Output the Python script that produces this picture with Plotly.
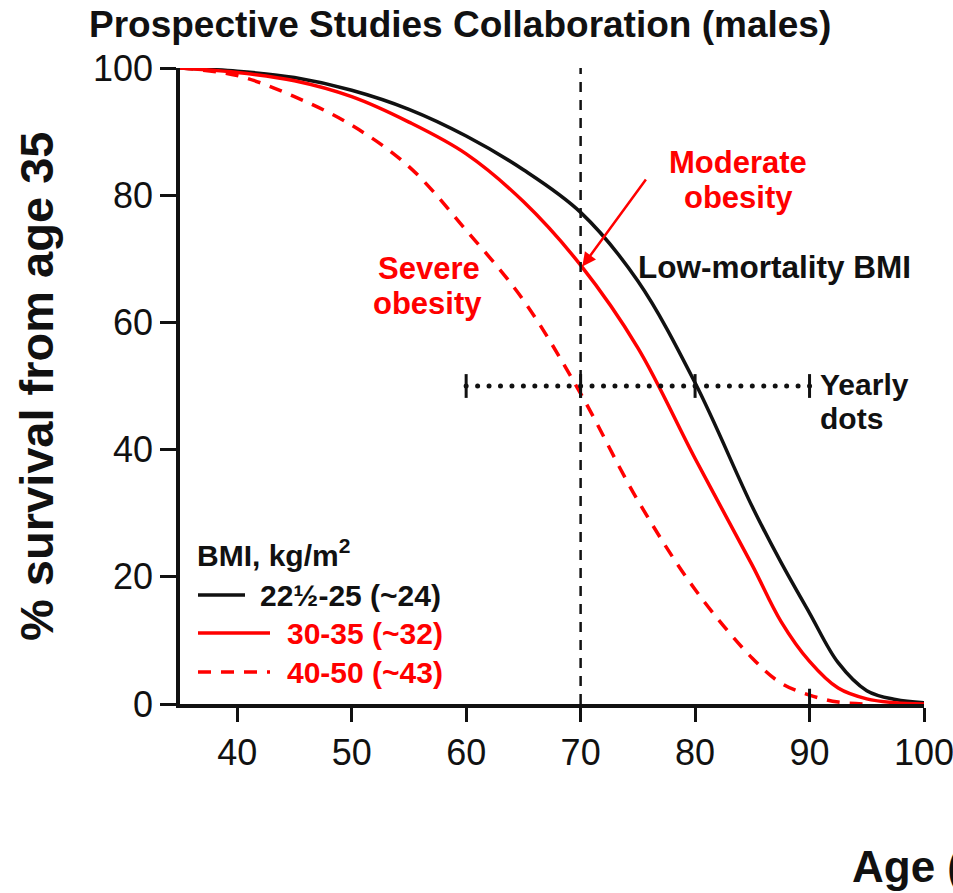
import plotly.graph_objects as go

# Survival from age 35 (%), males, by BMI band
ages_low = [35, 40, 45, 50, 55, 60, 65, 70, 75, 80, 85, 87.5, 90, 92.5, 95, 97.5, 100]
surv_low = [100, 99.5, 98.5, 96.5, 93.5, 89.3, 84, 77.3, 66.5, 50.5, 31, 22.3, 14.3, 6.5, 2.1, 0.7, 0.2]

ages_moderate = [35, 40, 45, 50, 55, 60, 65, 70, 75, 80, 85, 87.5, 90, 92.5, 95, 97.5, 100]
surv_moderate = [100, 99.3, 98, 95.5, 91.5, 86.5, 79, 69, 56, 38.6, 21.8, 13, 6.7, 2.5, 0.8, 0.2, 0]

ages_severe = [35, 40, 45, 50, 55, 60, 65, 70, 75, 80, 85, 87.5, 90, 92.5, 95]
surv_severe = [100, 98.8, 95.5, 91, 84.5, 74.5, 63.5, 48.8, 32, 18, 7.2, 3.3, 1.4, 0.3, 0]

# Yearly dot ruler
dot_ages = list(range(60, 91))
dot_level = 50
ruler_ticks = [60, 70, 80, 90]

x_ticks = [40, 50, 60, 70, 80, 90, 100]
y_ticks = [0, 20, 40, 60, 80, 100]

FONT = "Liberation Sans, Arial, sans-serif"
RED = "#ff0000"
BLACK = "#111111"

W, H = 953, 893
L, R, T, B = 180, 29, 68, 189
PW, PH = W - L - R, H - T - B


def px(xp):
    return (xp - L) / PW


def py(yp):
    return (H - B - yp) / PH


def label(text, x, y, color, size, anchor="center"):
    fig.add_annotation(x=px(x), y=py(y), xref="paper", yref="paper", xanchor=anchor, yanchor="middle",
                       text=f"<b>{text}</b>", showarrow=False,
                       font=dict(size=size, color=color, family=FONT))


fig = go.Figure()

fig.add_trace(go.Scatter(x=ages_low, y=surv_low, mode="lines",
                         line=dict(color=BLACK, width=3.5, shape="spline", smoothing=1),
                         showlegend=False, hoverinfo="skip"))
fig.add_trace(go.Scatter(x=ages_moderate, y=surv_moderate, mode="lines",
                         line=dict(color=RED, width=3.5, shape="spline", smoothing=1),
                         showlegend=False, hoverinfo="skip"))
fig.add_trace(go.Scatter(x=ages_severe, y=surv_severe, mode="lines",
                         line=dict(color=RED, width=3.5, shape="spline", smoothing=1, dash="13px,10px"),
                         showlegend=False, hoverinfo="skip"))

# Vertical reference line at age 70
fig.add_trace(go.Scatter(x=[70, 70], y=[0, 100], mode="lines",
                         line=dict(color=BLACK, width=2.5, dash="10px,8px"),
                         showlegend=False, hoverinfo="skip"))

# Yearly dots with decade ticks
fig.add_trace(go.Scatter(x=dot_ages, y=[dot_level] * len(dot_ages), mode="markers",
                         marker=dict(color=BLACK, size=5), showlegend=False, hoverinfo="skip"))
fig.add_trace(go.Scatter(x=ruler_ticks, y=[dot_level] * len(ruler_ticks), mode="markers",
                         marker=dict(symbol="line-ns", size=17, line=dict(color=BLACK, width=3)),
                         showlegend=False, hoverinfo="skip"))

# Small inside tick at age 90
fig.add_shape(type="line", x0=90, x1=90, y0=0, y1=2.4, xref="x", yref="y", line=dict(color=BLACK, width=3))

# Legend block
label("BMI, kg/m<sup>2</sup>", 195, 553, BLACK, 30, anchor="left")
legend_rows = [
    ("22½-25 (~24)", BLACK, "solid", 198, 245, 258, 595),
    ("30-35 (~32)", RED, "solid", 198, 270, 285, 633),
    ("40-50 (~43)", RED, "13px,10px", 198, 270, 285, 672),
]
for text, col, dash, x0, x1, tx, ty in legend_rows:
    fig.add_shape(type="line", xref="paper", yref="paper", x0=px(x0), x1=px(x1), y0=py(ty), y1=py(ty),
                  line=dict(color=col, width=3.5, dash=dash))
    label(text, tx, ty, col, 30, anchor="left")

# Curve labels
label("Moderate", 738, 162, RED, 31)
label("obesity", 738, 198, RED, 31)
label("Severe", 429, 268, RED, 31)
label("obesity", 427, 303, RED, 31)
label("Low-mortality BMI", 636, 267, BLACK, 31.5, anchor="left")
label("Yearly", 818, 385, BLACK, 30, anchor="left")
label("dots", 818, 419, BLACK, 30, anchor="left")

# Arrow pointing at the moderate-obesity curve at age 70
fig.add_annotation(x=70.15, y=68.8, xref="x", yref="y", ax=75.8, ay=82.7, axref="x", ayref="y",
                   text="", showarrow=True, arrowhead=2, arrowsize=1.1, arrowwidth=2.5, arrowcolor=RED)

# Titles
label("Prospective Studies Collaboration (males)", 460, 25, BLACK, 37)
fig.add_annotation(x=px(37), y=py(387), xref="paper", yref="paper", xanchor="center", yanchor="middle",
                   text="<b>% survival from age 35</b>", showarrow=False, textangle=-90,
                   font=dict(size=47, color=BLACK, family=FONT))
label("Age (years)", 850, 866, BLACK, 44, anchor="left")

axis_common = dict(showgrid=False, zeroline=False, showline=True, linecolor=BLACK, linewidth=3.5,
                   ticks="outside", tickcolor=BLACK, tickwidth=3, automargin=False,
                   ticklabeloverflow="allow",
                   tickfont=dict(size=36, color=BLACK, family=FONT))

fig.update_layout(
    width=W, height=H,
    margin=dict(l=L, r=R, t=T, b=B, autoexpand=False),
    paper_bgcolor="white", plot_bgcolor="white",
    xaxis=dict(range=[35, 100], tickvals=x_ticks, ticklen=14, **axis_common),
    yaxis=dict(range=[0, 100], tickvals=y_ticks, ticklen=16, **axis_common),
    showlegend=False,
)

fig.write_html("out.html")
